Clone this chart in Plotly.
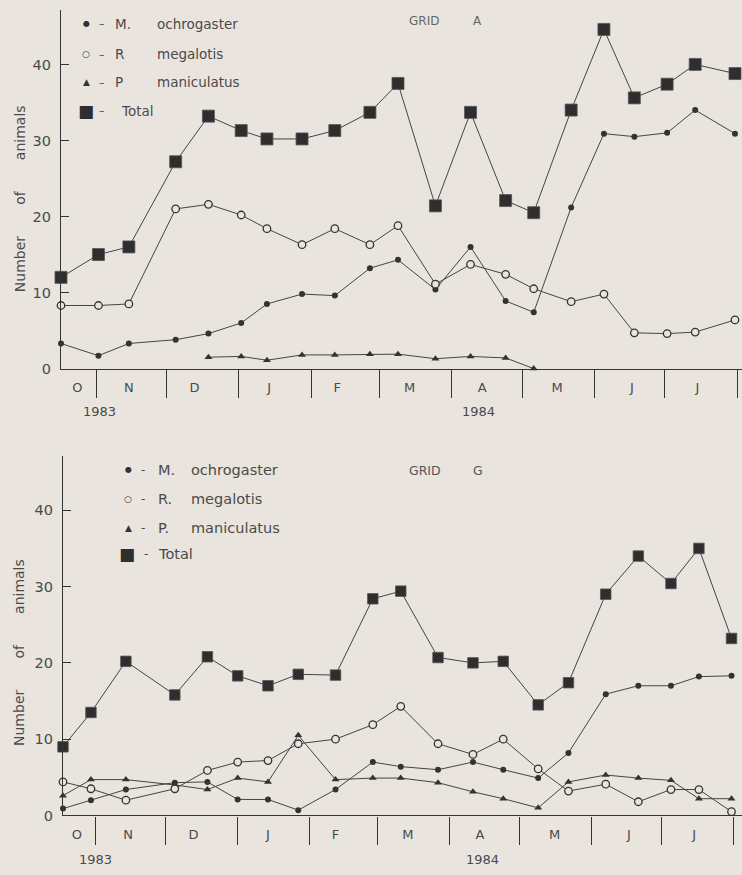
import plotly.graph_objects as go

# ---------------- data ----------------
# Grid A sampling dates and counts
dates_a = ["1983-10-17", "1983-11-02", "1983-11-15", "1983-12-05", "1983-12-19",
           "1984-01-02", "1984-01-13", "1984-01-28", "1984-02-11", "1984-02-26",
           "1984-03-09", "1984-03-25", "1984-04-09", "1984-04-24", "1984-05-06",
           "1984-05-22", "1984-06-05", "1984-06-18", "1984-07-02", "1984-07-14",
           "1984-07-31"]
ochro_a = [3.3, 1.7, 3.3, 3.8, 4.6, 6.0, 8.5, 9.8, 9.6, 13.2, 14.3, 10.4, 16.0,
           8.9, 7.4, 21.2, 30.9, 30.5, 31.0, 34.0, 30.9]
megal_a = [8.3, 8.3, 8.5, 21.0, 21.6, 20.2, 18.4, 16.3, 18.4, 16.3, 18.8, 11.1,
           13.7, 12.4, 10.5, 8.8, 9.8, 4.7, 4.6, 4.8, 6.4]
manic_a = [None, None, None, None, 1.5, 1.6, 1.1, 1.8, 1.8, 1.9, 1.9, 1.3, 1.6,
           1.4, 0.0, None, None, None, None, None, None]
total_a = [12.0, 15.0, 16.0, 27.2, 33.2, 31.3, 30.2, 30.2, 31.3, 33.7, 37.5, 21.4,
           33.7, 22.1, 20.5, 34.0, 44.6, 35.6, 37.4, 40.0, 38.8]

# Grid G sampling dates and counts
dates_g = ["1983-10-18", "1983-10-30", "1983-11-14", "1983-12-05", "1983-12-19",
           "1984-01-01", "1984-01-14", "1984-01-27", "1984-02-12", "1984-02-28",
           "1984-03-11", "1984-03-27", "1984-04-11", "1984-04-24", "1984-05-09",
           "1984-05-22", "1984-06-07", "1984-06-21", "1984-07-05", "1984-07-17",
           "1984-07-31"]
ochro_g = [0.9, 2.0, 3.4, 4.3, 4.4, 2.1, 2.1, 0.7, 3.4, 7.0, 6.4, 6.0, 7.0, 6.0,
           4.9, 8.2, 15.9, 17.0, 17.0, 18.2, 18.3]
megal_g = [4.4, 3.5, 2.0, 3.5, 5.9, 7.0, 7.2, 9.4, 10.0, 11.9, 14.3, 9.4, 8.0,
           10.0, 6.1, 3.2, 4.1, 1.8, 3.4, 3.4, 0.5]
manic_g = [2.6, 4.7, 4.7, 4.0, 3.4, 4.9, 4.4, 10.5, 4.7, 4.9, 4.9, 4.3, 3.1, 2.2,
           1.0, 4.4, 5.3, 4.9, 4.6, 2.2, 2.2]
total_g = [9.0, 13.5, 20.2, 15.8, 20.8, 18.3, 17.0, 18.5, 18.4, 28.4, 29.4, 20.7,
           20.0, 20.2, 14.5, 17.4, 29.0, 34.0, 30.4, 35.0, 23.2]

# Month axis
month_starts = ["1983-11-01", "1983-12-01", "1984-01-01", "1984-02-01", "1984-03-01",
                "1984-04-01", "1984-05-01", "1984-06-01", "1984-07-01", "1984-08-01"]
month_label_dates = ["1983-10-24", "1983-11-15", "1983-12-13", "1984-01-14",
                     "1984-02-12", "1984-03-14", "1984-04-14", "1984-05-16",
                     "1984-06-17", "1984-07-15"]
month_letters = ["O", "N", "D", "J", "F", "M", "A", "M", "J", "J"]
y_ticks = [0, 10, 20, 30, 40]

# ---------------- styling ----------------
W, H = 742, 875
BG = "#e9e5de"
INK = "#333333"
TXT = "#4a4a4a"
FONT = "DejaVu Sans"


def px(x):
    return x / W


def py(y):
    return 1 - y / H


fig = go.Figure()

panels = [
    dict(xa="x", ya="y", dates=dates_a, o=ochro_a, m=megal_a, p=manic_a, t=total_a, sq=12),
    dict(xa="x2", ya="y2", dates=dates_g, o=ochro_g, m=megal_g, p=manic_g, t=total_g, sq=10.5),
]
for pn in panels:
    common = dict(xaxis=pn["xa"], yaxis=pn["ya"], mode="lines+markers",
                  line=dict(color="#444444", width=1), showlegend=False, cliponaxis=False)
    fig.add_trace(go.Scatter(x=pn["dates"], y=pn["p"], name="P. maniculatus",
                             marker=dict(symbol="triangle-up", size=7, color=INK), **common))
    fig.add_trace(go.Scatter(x=pn["dates"], y=pn["o"], name="M. ochrogaster",
                             marker=dict(symbol="circle", size=6, color=INK), **common))
    fig.add_trace(go.Scatter(x=pn["dates"], y=pn["m"], name="R. megalotis",
                             marker=dict(symbol="circle", size=7.5, color=BG,
                                         line=dict(color=INK, width=1.3)), **common))
    fig.add_trace(go.Scatter(x=pn["dates"], y=pn["t"], name="Total",
                             marker=dict(symbol="square", size=pn["sq"], color="#2e2e2e",
                                         line=dict(color="#555555", width=0.8)), **common))


def xaxis_cfg(domain, rng):
    return dict(domain=domain, type="date", range=rng, showline=True, linecolor=INK,
                linewidth=1.3, showgrid=False, zeroline=False,
                tickmode="array", tickvals=month_label_dates, ticktext=month_letters,
                ticks="", ticklabelstandoff=7,
                tickfont=dict(family=FONT, size=13, color=TXT),
                minor=dict(tickmode="array", tickvals=month_starts, ticks="outside",
                           ticklen=28, tickwidth=1.3, tickcolor=INK, showgrid=False))


def yaxis_cfg(domain, rng, anchor):
    return dict(domain=domain, range=rng, anchor=anchor, showline=True, linecolor=INK,
                linewidth=1.3, showgrid=False, zeroline=False,
                tickmode="array", tickvals=y_ticks, ticks="inside", ticklen=8,
                tickwidth=1.3, tickcolor=INK, ticklabelstandoff=6,
                tickfont=dict(family=FONT, size=14.5, color=TXT))


fig.update_layout(
    width=W, height=H, margin=dict(l=0, r=0, t=0, b=0),
    paper_bgcolor=BG, plot_bgcolor=BG,
    xaxis=xaxis_cfg([px(61), 1.0], ["1983-10-17", "1984-08-03"]) | dict(anchor="y"),
    yaxis=yaxis_cfg([py(372), py(10)], [0, 47.17], "x"),
    xaxis2=xaxis_cfg([px(63), 1.0], ["1983-10-18", "1984-08-04 12:00"]) | dict(anchor="y2"),
    yaxis2=yaxis_cfg([py(823), py(460)], [0, 47.14], "x2"),
)

ann = []


def text(x, y, s, size=12, xanchor="left", angle=0, color=TXT):
    ann.append(dict(x=px(x), y=py(y), xref="paper", yref="paper", text=s, showarrow=False,
                    xanchor=xanchor, yanchor="middle", textangle=angle,
                    font=dict(family=FONT, size=size, color=color)))


# Grid A legend / title
top_rows = [(24, "●", 8, "M.", "ochrogaster"), (55, "○", 9, "R", "megalotis"),
            (83, "▲", 9, "P", "maniculatus")]
for y, sym, ss, g, sp in top_rows:
    text(86, y, sym, ss, "center", color=INK)
    text(102, y, "–", 11, "center")
    text(113, y, g, 13.5)
    text(155, y, sp, 13.5)
text(86, 112, "■", 17, "center", color="#2e2e2e")
text(102, 112, "–", 11, "center")
text(119, 112, "Total", 13.5)
text(407, 21, "GRID", 12, color="#666666")
text(477, 21, "A", 12, "center", color="#666666")

# Grid G legend / title
bot_rows = [(474, "●", 8, "M.", "ochrogaster"), (504, "○", 9, "R.", "megalotis"),
            (533, "▲", 9, "P.", "maniculatus")]
for y, sym, ss, g, sp in bot_rows:
    text(128, y, sym, ss, "center", color=INK)
    text(143, y, "-", 12, "center")
    text(156, y, g, 14.5)
    text(189, y, sp, 14.5)
text(127, 559, "■", 17, "center", color="#2e2e2e")
text(146, 559, "-", 12, "center")
text(156, 559, "Total", 14.5)
text(407, 475, "GRID", 12.5, color="#555555")
text(478, 475, "G", 12.5, "center", color="#555555")

# axis titles
nb = "\u00a0" * 7
text(20, 201, f"Number{nb}of{nb}animals", 14, "center", angle=-90)
text(19, 659, f"Number{nb}of{nb}animals", 14, "center", angle=-90)

# year labels
text(100, 415, "1983", 13, "center")
text(478, 415, "1984", 13, "center")
text(95, 867, "1983", 13, "center")
text(482, 867, "1984", 13, "center")

fig.update_layout(annotations=ann)
fig.write_html("out.html", config={"displayModeBar": False},
               post_script="document.body.style.margin='0px';"
                           "document.body.style.background='%s';" % BG)
